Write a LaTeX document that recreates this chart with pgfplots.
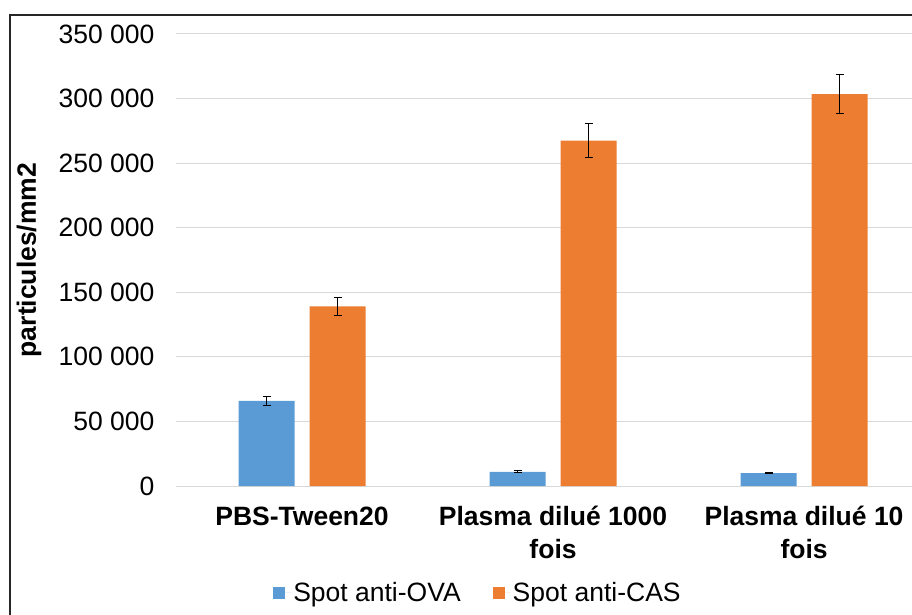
\documentclass[border=0pt]{standalone}
\usepackage{pgfplots}
\pgfplotsset{compat=1.18}
\usepackage{fontspec}
\setmainfont{Liberation Sans}
\definecolor{cblue}{HTML}{5B9BD5}
\definecolor{corange}{HTML}{ED7D31}
\definecolor{cgrid}{HTML}{D9D9D9}
\begin{document}
\begin{tikzpicture}[x=1pt,y=1pt]
\useasboundingbox (0,0) rectangle (912,614);
\draw[line width=1.5pt, black!85] (10,-5) -- (10,599) -- (920,599);
\begin{axis}[
  at={(176pt,128pt)}, anchor=south west,
  scale only axis, width=736pt, height=452pt,
  xmin=-0.502, xmax=2.430, ymin=0, ymax=350000,
  scaled y ticks=false,
  ybar=15pt, bar width=56pt,
  axis line style={draw=none},
  major tick length=0pt,
  ymajorgrids, major grid style={cgrid, line width=1pt},
  xtick={0,1,2},
  xticklabels={PBS-Tween20, {Plasma dilué 1000\\fois}, {Plasma dilué 10\\fois}},
  xticklabel style={align=center, font=\fontsize{26.5}{33}\selectfont\bfseries, yshift=-17pt},
  ytick={0,50000,100000,150000,200000,250000,300000,350000},
  yticklabels={0,{50 000},{100 000},{150 000},{200 000},{250 000},{300 000},{350 000}},
  yticklabel style={font=\fontsize{26.5}{31}\selectfont, xshift=-18pt},
  ylabel={particules/mm2},
  every axis y label/.style={at={(axis description cs:-0.1997,0.5)}, rotate=90, anchor=center, font=\fontsize{26.5}{31}\selectfont\bfseries},
  legend style={at={(axis description cs:0.4103,-0.2367)}, anchor=center, draw=none, fill=none,
    legend columns=2, font=\fontsize{26.5}{31}\selectfont,
    /tikz/every even column/.append style={column sep=30pt}},
  legend image code/.code={\fill[#1] (0pt,-6pt) rectangle (12pt,6pt); \path (0pt,0pt) -- (18pt,0pt);},
  clip=false,
]
\addplot[fill=cblue, draw=none,
  error bars/.cd, y dir=both, y explicit,
  error bar style={black, line width=1pt},
  error mark options={rotate=90, black, mark size=4pt, line width=1pt}]
  coordinates {(0,66000) +- (0,3500) (1,11000) +- (0,800) (2,10000) +- (0,300)};
\addplot[fill=corange, draw=none,
  error bars/.cd, y dir=both, y explicit,
  error bar style={black, line width=1pt},
  error mark options={rotate=90, black, mark size=4pt, line width=1pt}]
  coordinates {(0,139000) +- (0,6700) (1,267500) +- (0,13500) (2,303500) +- (0,15000)};
\legend{Spot anti-OVA, Spot anti-CAS}
\end{axis}
\end{tikzpicture}
\end{document}
